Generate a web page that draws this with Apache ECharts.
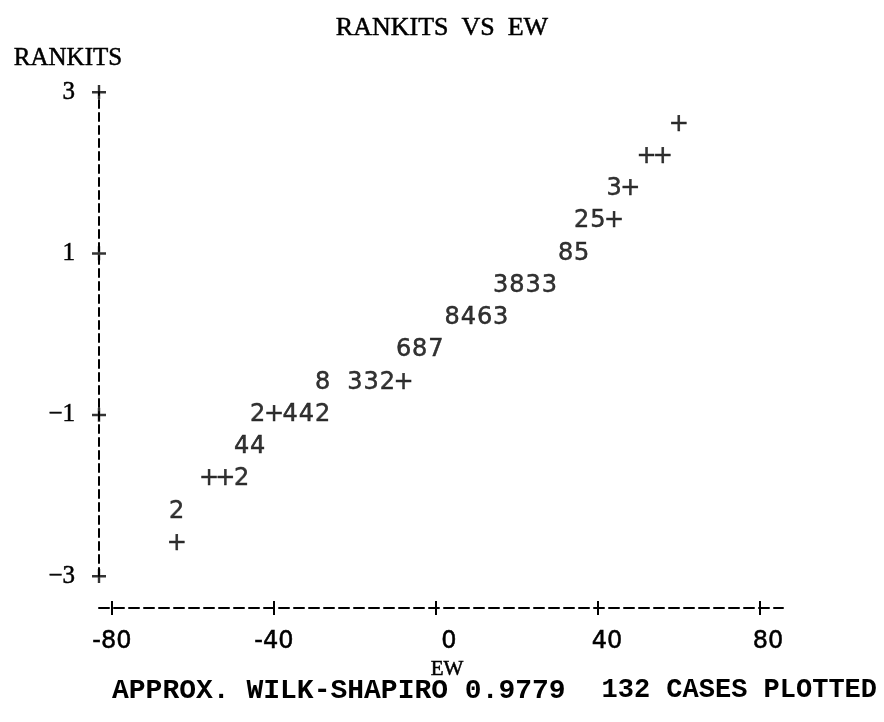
<!DOCTYPE html>
<html>

<head>
    <meta charset="UTF-8">
    <title>Rankits vs EW</title>
    <script src="https://cdn.jsdelivr.net/npm/echarts/dist/echarts.min.js"></script>
</head>

<body style="margin:0;background:#fff;">
    <div id="chart" style="width: 884px;height:722px;"></div>
    <script type="text/javascript">
        var myChart = echarts.init(document.getElementById('chart'));

        // printer-plot characters: position in EW / rankit units and the mark printed there
        var ew = [-64, -64, -56, -52, -48, -48, -44, -44, -40, -36, -32, -28,
            -28, -20, -16, -12, -8, -8, -4, 0, 4, 8, 12, 16,
            16, 20, 24, 28, 32, 36, 36, 40, 44, 44, 48, 52, 56, 60];
        var rankit = [-2.6, -2.2, -1.8, -1.8, -1.8, -1.4, -1.4, -1.0, -1.0, -1.0, -1.0, -1.0,
            -0.6, -0.6, -0.6, -0.6, -0.6, -0.2, -0.2, -0.2, 0.2, 0.2, 0.2, 0.2,
            0.6, 0.6, 0.6, 0.6, 1.0, 1.0, 1.4, 1.4, 1.4, 1.8, 1.8, 2.2, 2.2, 2.6];
        var marks = ['+', '2', '+', '+', '2', '4', '4', '2', '+', '4', '4', '2',
            '8', '3', '3', '2', '+', '6', '8', '7', '8', '4', '6', '3',
            '3', '8', '3', '3', '8', '5', '2', '5', '+', '3', '+', '+', '+', '+'];

        var xTicks = [-80, -40, 0, 40, 80];
        var yTicks = [-3, -1, 1, 3];
        var yTickText = { '-3': '\u22123', '-1': '\u22121', '1': '1', '3': '3' };
        var xMin = -83.2, xMax = 85.7;

        var points = ew.map(function (v, i) {
            return [v, rankit[i], marks[i]];
        });
        // "+" marks printed on the rankits axis
        var yPlus = yTicks.map(function (v) { return [xMin, v]; });

        var tickStyle = { color: '#000', width: 2 };
        // a thin outline makes the text look closer to the printed ink
        var ink = { color: '#000', textBorderColor: '#000', textBorderWidth: 0.5 };

        var option = {
            backgroundColor: '#fff',
            animation: false,
            title: {
                text: 'RANKITS  VS  EW',
                left: 'center',
                top: 10,
                textStyle: Object.assign({ fontFamily: 'Liberation Serif', fontSize: 26, fontWeight: 'normal' }, ink)
            },
            grid: { left: 99, right: 101, top: 92, height: 484 },
            xAxis: [
                {
                    type: 'value',
                    min: xMin,
                    max: xMax,
                    position: 'bottom',
                    offset: 32,
                    name: 'EW',
                    nameLocation: 'middle',
                    nameGap: 42,
                    nameTextStyle: Object.assign({ fontFamily: 'Liberation Serif', fontSize: 21, padding: [0, 0, 0, 12] }, ink),
                    axisLine: { show: true, onZero: false, lineStyle: { color: '#000', width: 2, type: [10, 5] } },
                    axisTick: { show: true, customValues: xTicks, length: 7, lineStyle: tickStyle },
                    axisLabel: {
                        customValues: xTicks,
                        margin: 22,
                        fontFamily: 'DejaVu Sans',
                        fontSize: 24,
                        color: '#000',
                        formatter: function (v) {
                            if (v === 0) return '{a|0}';
                            if (v === 40) return '{b|40}';
                            if (v === 80) return '{c|80}';
                            return '{d|' + v + '}';
                        },
                        rich: {
                            a: Object.assign({ fontFamily: 'DejaVu Sans', fontSize: 24, padding: [0, 0, 0, 26] }, ink),
                            b: Object.assign({ fontFamily: 'DejaVu Sans', fontSize: 24, padding: [0, 0, 0, 18] }, ink),
                            c: Object.assign({ fontFamily: 'DejaVu Sans', fontSize: 24, padding: [0, 0, 0, 16] }, ink),
                            d: Object.assign({ fontFamily: 'DejaVu Sans', fontSize: 24 }, ink)
                        }
                    },
                    splitLine: { show: false }
                },
                {
                    type: 'value',
                    min: xMin,
                    max: xMax,
                    position: 'bottom',
                    offset: 32,
                    axisLine: { show: false, onZero: false },
                    axisTick: { show: true, inside: true, customValues: xTicks, length: 7, lineStyle: tickStyle },
                    axisLabel: { show: false },
                    splitLine: { show: false }
                }
            ],
            yAxis: {
                type: 'value',
                min: -3,
                max: 3,
                position: 'left',
                name: 'RANKITS',
                nameLocation: 'end',
                nameGap: 21,
                nameTextStyle: Object.assign({ fontFamily: 'Liberation Serif', fontSize: 25, align: 'center', padding: [0, 62, 0, 0] }, ink),
                axisLine: { show: true, onZero: false, lineStyle: { color: '#000', width: 2, type: [8, 5] } },
                axisTick: { show: false },
                axisLabel: Object.assign({
                    customValues: yTicks,
                    margin: 24,
                    fontFamily: 'Liberation Serif',
                    fontSize: 25,
                    formatter: function (v) { return yTickText[String(v)]; }
                }, ink),
                splitLine: { show: false }
            },
            series: [
                {
                    name: 'cases',
                    type: 'scatter',
                    data: points,
                    symbolSize: 1,
                    itemStyle: { color: 'rgba(0,0,0,0)' },
                    label: Object.assign({
                        show: true,
                        position: 'inside',
                        fontFamily: 'DejaVu Sans',
                        fontSize: 24,
                        formatter: function (p) { return p.data[2]; }
                    }, ink),
                    emphasis: { disabled: true },
                    silent: true
                },
                {
                    name: 'axis marks',
                    type: 'scatter',
                    data: yPlus,
                    clip: false,
                    symbol: 'path://M0,6L14,6L14,8.5L0,8.5Z M5.8,0L8.2,0L8.2,14L5.8,14Z',
                    symbolSize: [14, 14],
                    itemStyle: { color: '#000' },
                    emphasis: { disabled: true },
                    silent: true
                }
            ],
            graphic: [
                {
                    type: 'text',
                    left: 112,
                    top: 677,
                    style: { text: 'APPROX. WILK-SHAPIRO 0.9779', font: 'bold 28px "Liberation Mono"', fill: '#000' }
                },
                {
                    type: 'text',
                    right: 7,
                    top: 677,
                    style: { text: '132 CASES PLOTTED', font: 'bold 27px "Liberation Mono"', fill: '#000' }
                }
            ]
        };

        myChart.setOption(option);
    </script>
</body>

</html>
